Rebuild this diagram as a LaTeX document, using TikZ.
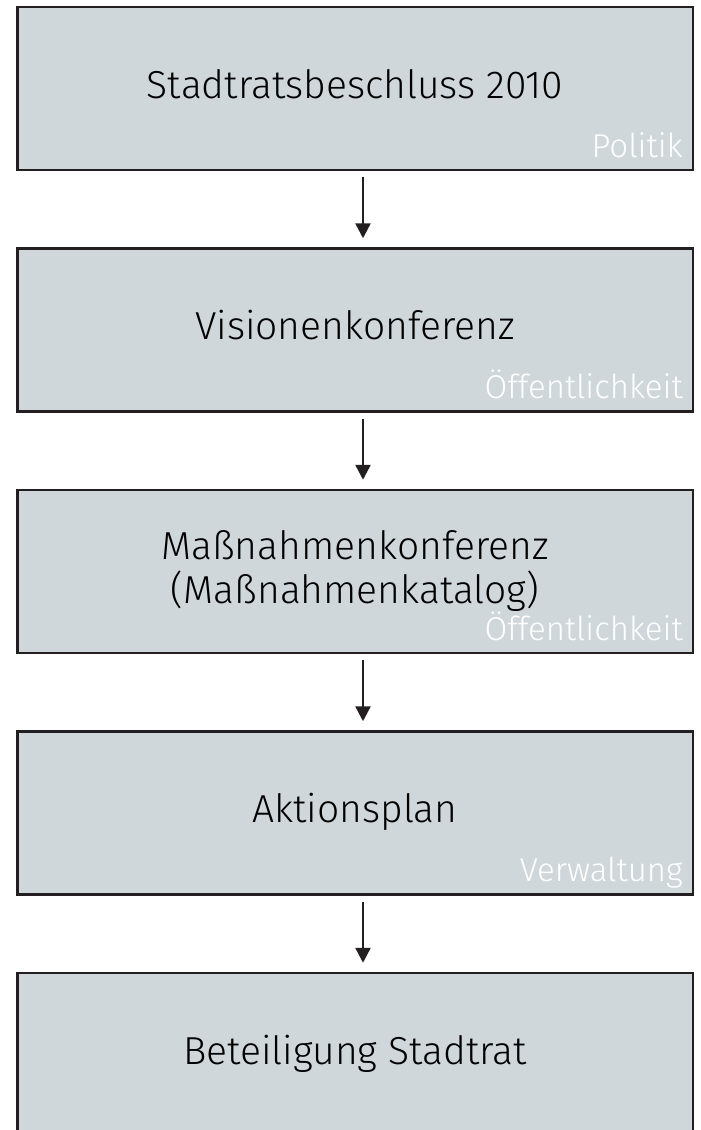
\documentclass[tikz,border=0pt]{standalone}
\usepackage{fontspec}
\setmainfont{Fira Sans}[UprightFont=* Light]
\usetikzlibrary{positioning,arrows.meta}
\definecolor{boxgray}{RGB}{207,215,219}
\definecolor{boxline}{RGB}{35,31,32}
\tikzset{
    stage/.style={draw=boxline, fill=boxgray, line width=2.5pt, minimum width=675.5pt,
        minimum height=163pt, inner sep=0pt, align=center,
        font=\fontsize{39}{44}\selectfont},
    oneline/.style={text height=27pt, text depth=8pt},
    actor/.style={anchor=base east, text=white, inner sep=0pt,
        font=\fontsize{33}{35}\selectfont},
    flow/.style={-{Triangle[width=15pt,length=15pt]}, line width=2.5pt, draw=boxline}
}
\begin{document}
\begin{tikzpicture}[x=1pt,y=1pt]
    \useasboundingbox (0,0) rectangle (701,-1130);
    \clip (0,0) rectangle (701,-1130);
    \node[stage, oneline] (b1) at (355,-88.5) {Stadtratsbeschluss 2010};
    \node[stage, oneline, below=76pt of b1] (b2) {Visionenkonferenz};
    \node[stage, below=76pt of b2] (b3) {Maßnahmenkonferenz\\(Maßnahmenkatalog)};
    \node[stage, oneline, below=76pt of b3] (b4) {Aktionsplan};
    \node[stage, oneline, below=76pt of b4] (b5) {Beteiligung Stadtrat};
    \node[actor] (a1) at ([xshift=-11pt,yshift=14pt]b1.south east) {Politik};
    \node[actor] (a2) at ([xshift=-11pt,yshift=14pt]b2.south east) {Öffentlichkeit};
    \node[actor] (a3) at ([xshift=-11pt,yshift=14pt]b3.south east) {Öffentlichkeit};
    \node[actor] (a4) at ([xshift=-11pt,yshift=14pt]b4.south east) {Verwaltung};
    \foreach \i [evaluate=\i as \j using {int(\i+1)}] in {1,...,4}{
        \draw[flow] ([xshift=8pt,yshift=-6pt]b\i.south) -- ([xshift=8pt,yshift=9pt]b\j.north);
    }
\end{tikzpicture}
\end{document}
